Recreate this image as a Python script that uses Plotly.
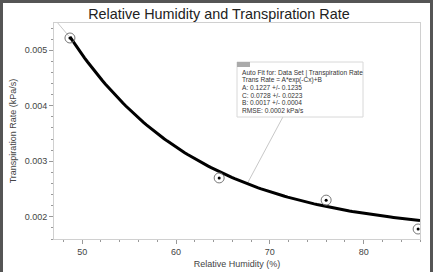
import numpy as np
import plotly.graph_objects as go

humidity = [48.7, 64.6, 76.0, 85.8]
trans_rate = [0.00522, 0.0027, 0.0023, 0.00178]
fit_A, fit_C, fit_B = 0.1227, 0.0728, 0.0017
fit_x = np.linspace(48.7, 86.0, 120)
fit_y = fit_A * np.exp(-fit_C * fit_x) + fit_B

box_lines = [
    "Auto Fit for: Data Set | Transpiration Rate",
    "Trans Rate = A*exp(-Cx)+B",
    "A: 0.1227 +/- 0.1235",
    "C: 0.0728 +/- 0.0223",
    "B: 0.0017 +/- 0.0004",
    "RMSE: 0.0002 kPa/s",
]

L, R, T, B = 54, 18, 23, 33
W, H = 438, 272
PW, PH = W - L - R, H - T - B


def px(x):
    return (x - L) / PW


def py(y):
    return (H - B - y) / PH


fig = go.Figure()
# faint extension line at top-left
fig.add_trace(go.Scatter(x=[47.4, 48.6], y=[0.00549, 0.00525], mode="lines",
                         line=dict(color="#c8c8c8", width=1), hoverinfo="skip", showlegend=False))
# leader line from box to curve
fig.add_trace(go.Scatter(x=[67.6, 71.4], y=[0.00260, 0.00380], mode="lines",
                         line=dict(color="#c8c8c8", width=1), hoverinfo="skip", showlegend=False))
fig.add_trace(go.Scatter(x=fit_x, y=fit_y, mode="lines",
                         line=dict(color="black", width=3), showlegend=False))
fig.add_trace(go.Scatter(x=humidity, y=trans_rate, mode="markers",
                         marker=dict(symbol="circle-open", size=10, color="#777777",
                                     line=dict(width=1)), showlegend=False))
fig.add_trace(go.Scatter(x=humidity, y=trans_rate, mode="markers",
                         marker=dict(symbol="circle", size=3, color="black"), showlegend=False))

font_ax = dict(family="Liberation Sans, Arial", size=9, color="#444444")
axis_common = dict(showgrid=False, zeroline=False, showline=True, linecolor="#d0d0d0",
                   linewidth=1, mirror=True, ticks="outside", ticklen=4, tickcolor="#999999",
                   tickfont=font_ax, automargin=False)
fig.update_xaxes(range=[47.0, 86.0], tickvals=[50, 60, 70, 80],
                 minor=dict(ticks="outside", ticklen=2, dtick=2, tickcolor="#999999"),
                 title=dict(text="Relative Humidity (%)", font=font_ax, standoff=4),
                 **axis_common)
fig.update_yaxes(range=[0.0016, 0.00549], tickvals=[0.002, 0.003, 0.004, 0.005],
                 ticktext=["0.002", "0.003", "0.004", "0.005"],
                 minor=dict(ticks="outside", ticklen=2, dtick=0.0002, tickcolor="#999999"),
                 title=dict(text="Transpiration Rate (kPa/s)", font=font_ax, standoff=6),
                 **axis_common)

# annotation box
fig.add_shape(type="rect", xref="paper", yref="paper", x0=px(237), x1=px(363),
              y0=py(117), y1=py(62), line=dict(color="#d8d8d8", width=1), fillcolor="white")
fig.add_shape(type="rect", xref="paper", yref="paper", x0=px(237), x1=px(250),
              y0=py(67), y1=py(62), line=dict(width=0), fillcolor="#aaaaaa")
for i, line in enumerate(box_lines):
    fig.add_annotation(xref="paper", yref="paper", x=px(240), y=py(73 + 7.4 * i),
                       xanchor="left", yanchor="middle", showarrow=False, align="left",
                       text=line,
                       font=dict(family="Liberation Sans, Arial", size=6.6, color="#333333"))

# outer frame (left, top, right)
fig.add_shape(type="path", xref="paper", yref="paper",
              path=f"M {px(1.5)} {py(275)} L {px(1.5)} {py(1.5)} L {px(431.5)} {py(1.5)} L {px(431.5)} {py(275)}",
              line=dict(color="#555555", width=3))

fig.update_layout(
    width=W, height=H,
    margin=dict(l=L, r=R, t=T, b=B),
    paper_bgcolor="white", plot_bgcolor="white",
    title=dict(text="Relative Humidity and Transpiration Rate", x=0.5, xanchor="center",
               y=1 - 14 / H, yanchor="middle",
               font=dict(family="Liberation Sans, Arial", size=14.4, color="#222222")),
)
fig.write_html("out.html")
